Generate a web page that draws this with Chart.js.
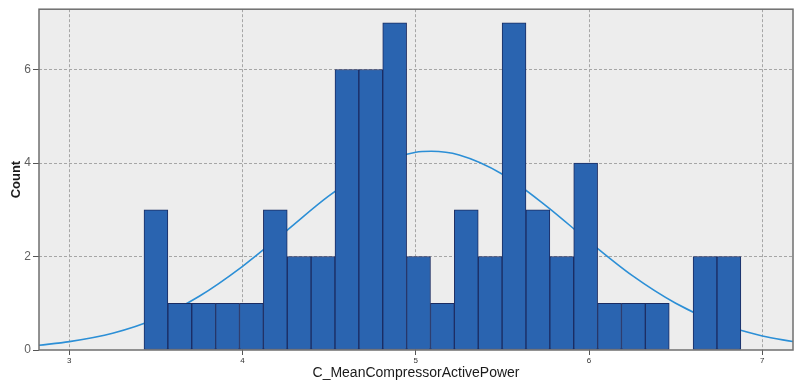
<!DOCTYPE html>
<html>
<head>
<meta charset="utf-8">
<script src="https://cdn.jsdelivr.net/npm/chart.js@4.4.1/dist/chart.umd.min.js"></script>
<style>
  html, body { margin: 0; padding: 0; background: #ffffff; }
  #wrap { width: 795px; height: 385px; position: relative; }
</style>
</head>
<body>
<div id="wrap"><canvas id="hist"></canvas></div>
<script>
// Histogram bins: first bin edge and bin width of C_MeanCompressorActivePower
const binStart = 3.431;
const binWidth = 0.1378;
const counts = [3, 1, 1, 1, 1, 3, 2, 2, 6, 6, 7, 2, 1, 3, 2, 7, 3, 2, 4, 1, 1, 1, 0, 2, 2];

// Fitted normal curve, sampled along the axis
const curveX = [2.825, 3.0, 3.25, 3.5, 3.75, 4.0, 4.25, 4.5, 4.75, 5.0, 5.09, 5.25, 5.5, 5.75, 6.0, 6.25, 6.5, 6.75, 7.0, 7.177];
const curveY = [0.10, 0.18, 0.36, 0.67, 1.15, 1.79, 2.54, 3.30, 3.91, 4.23, 4.25, 4.17, 3.76, 3.09, 2.32, 1.59, 1.00, 0.57, 0.30, 0.18];

const xTicks = [3, 4, 5, 6, 7];
const yTicks = [0, 2, 4, 6];

const barPoints = counts.map((c, i) => ({ x: binStart + (i + 0.5) * binWidth, y: c }));
const curvePoints = curveX.map((x, i) => ({ x: x, y: curveY[i] }));

const plotFrame = {
  id: 'plotFrame',
  beforeDraw(chart) {
    const a = chart.chartArea, ctx = chart.ctx;
    ctx.save();
    ctx.fillStyle = '#ededed';
    ctx.fillRect(a.left, a.top, a.right - a.left, a.bottom - a.top);
    ctx.restore();
  },
  afterDraw(chart) {
    const a = chart.chartArea, ctx = chart.ctx;
    ctx.save();
    ctx.strokeStyle = '#6f6f6f';
    ctx.lineWidth = 1.5;
    ctx.strokeRect(a.left, a.top, a.right - a.left, a.bottom - a.top);
    ctx.restore();
  }
};

new Chart(document.getElementById('hist'), {
  type: 'bar',
  data: {
    datasets: [
      {
        type: 'bar',
        data: barPoints,
        backgroundColor: '#2a64b0',
        borderColor: '#1b2c62',
        borderWidth: 1,
        borderSkipped: false,
        barPercentage: 1,
        categoryPercentage: 1,
        order: 1
      },
      {
        type: 'line',
        data: curvePoints,
        borderColor: '#2c8fd6',
        borderWidth: 1.6,
        pointRadius: 0,
        fill: false,
        cubicInterpolationMode: 'monotone',
        order: 2
      }
    ]
  },
  plugins: [plotFrame],
  options: {
    responsive: true,
    maintainAspectRatio: false,
    animation: false,
    events: [],
    layout: { padding: { top: 6, right: 2, left: 0, bottom: 0 } },
    plugins: { legend: { display: false }, tooltip: { enabled: false } },
    scales: {
      x: {
        type: 'linear',
        min: 2.825,
        max: 7.177,
        offset: false,
        afterBuildTicks: s => { s.ticks = xTicks.map(v => ({ value: v })); },
        afterFit: s => { s.height = 35; },
        grid: {
          offset: false,
          color: '#a6a6a6',
          lineWidth: 1,
          drawTicks: true,
          tickLength: 5,
          tickColor: '#555555',
          tickWidth: 1,
          tickBorderDash: []
        },
        border: { display: false, dash: [3, 2] },
        ticks: {
          autoSkip: false,
          maxRotation: 0,
          padding: 1,
          color: '#333333',
          font: { family: 'Liberation Sans', size: 8 }
        },
        title: {
          display: true,
          text: 'C_MeanCompressorActivePower',
          color: '#1a1a1a',
          font: { family: 'Liberation Sans', size: 14 },
          padding: { top: 0, bottom: 3 }
        }
      },
      y: {
        type: 'linear',
        min: 0,
        max: 7.29,
        afterBuildTicks: s => { s.ticks = yTicks.map(v => ({ value: v })); },
        afterFit: s => { s.width = 39; },
        grid: {
          color: c => (c.tick && c.tick.value === 0 ? 'rgba(0,0,0,0)' : '#a6a6a6'),
          lineWidth: 1,
          drawTicks: true,
          tickLength: 6,
          tickColor: '#555555',
          tickWidth: 1,
          tickBorderDash: []
        },
        border: { display: false, dash: [3, 2] },
        ticks: {
          padding: 2,
          color: '#606060',
          font: { family: 'Liberation Sans', size: 12 }
        },
        title: {
          display: true,
          text: 'Count',
          color: '#1a1a1a',
          font: { family: 'Liberation Sans', size: 13, weight: 'bold' },
          padding: { top: 9, bottom: 0 }
        }
      }
    }
  }
});
</script>
</body>
</html>
